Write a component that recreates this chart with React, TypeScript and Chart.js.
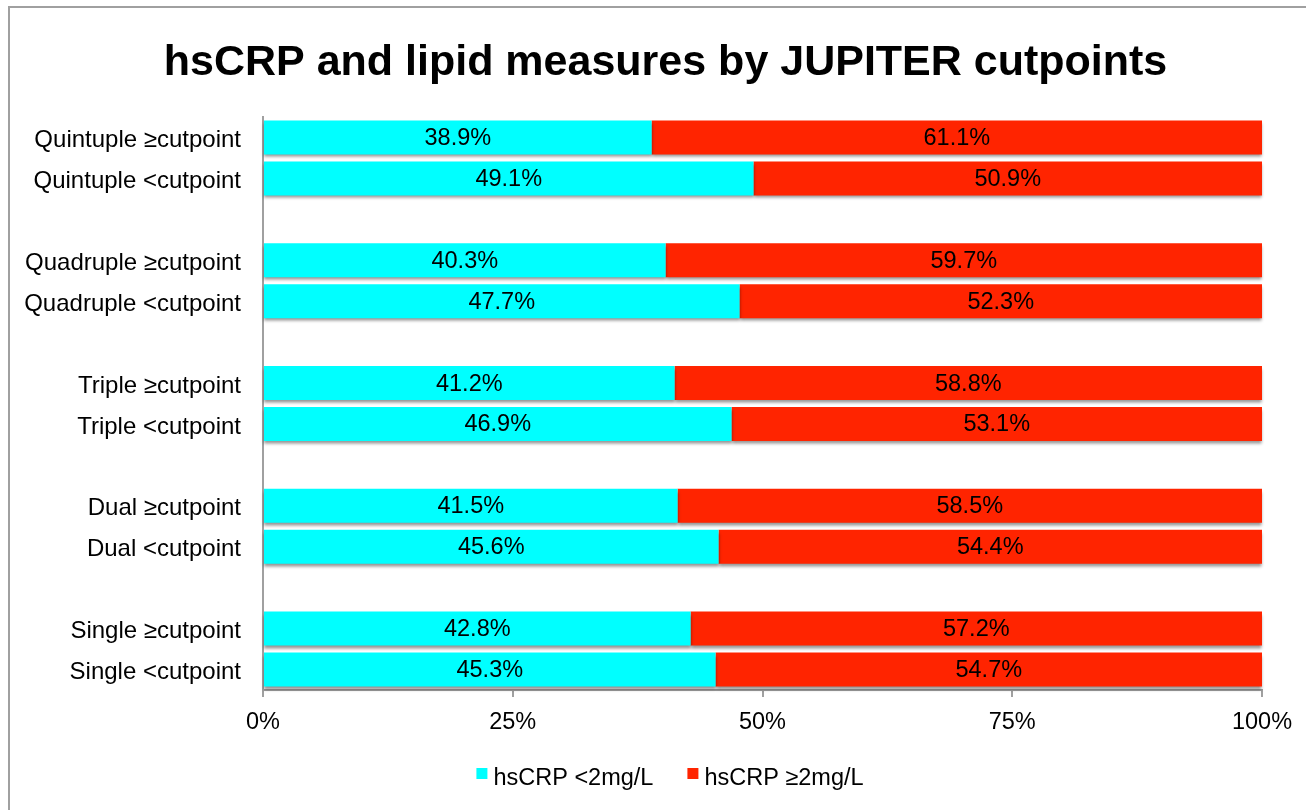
import React, { useEffect, useRef } from "react";
import { Chart, registerables } from "chart.js";

Chart.register(...registerables);

const TITLE = "hsCRP and lipid measures by JUPITER cutpoints";
const categories = [
  "Quintuple ≥cutpoint",
  "Quintuple <cutpoint",
  "",
  "Quadruple ≥cutpoint",
  "Quadruple <cutpoint",
  "",
  "Triple ≥cutpoint",
  "Triple <cutpoint",
  "",
  "Dual ≥cutpoint",
  "Dual <cutpoint",
  "",
  "Single ≥cutpoint",
  "Single <cutpoint",
];
const lowCRP = [38.9, 49.1, null, 40.3, 47.7, null, 41.2, 46.9, null, 41.5, 45.6, null, 42.8, 45.3];
const highCRP = [61.1, 50.9, null, 59.7, 52.3, null, 58.8, 53.1, null, 58.5, 54.4, null, 57.2, 54.7];
const seriesNames = ["hsCRP <2mg/L", "hsCRP ≥2mg/L"];
const seriesColors = ["#00FFFF", "#FF2400"];
const xTicks = [0, 25, 50, 75, 100];

const FONT = "'Liberation Sans', Arial, sans-serif";
const FS = 23.5;
const GRAY = "#a0a0a0";

const framePlugin = {
  id: "frame",
  beforeDraw(chart: any) {
    const ctx = chart.ctx;
    ctx.save();
    ctx.fillStyle = "#ffffff";
    ctx.fillRect(0, 0, chart.width, chart.height);
    ctx.fillStyle = GRAY;
    ctx.fillRect(8, 6, chart.width - 8, 2);
    ctx.fillRect(8, 6, 2, chart.height - 6);
    ctx.restore();
  },
};

const shadowPlugin = {
  id: "barShadow",
  beforeDatasetsDraw(chart: any) {
    const ctx = chart.ctx;
    ctx.save();
    ctx.shadowColor = "rgba(0,0,0,0.42)";
    ctx.shadowBlur = 3;
    ctx.shadowOffsetX = 0;
    ctx.shadowOffsetY = 3;
  },
  afterDatasetsDraw(chart: any) {
    chart.ctx.restore();
  },
};

const labelPlugin = {
  id: "segLabels",
  afterDatasetsDraw(chart: any) {
    const ctx = chart.ctx;
    ctx.save();
    ctx.shadowColor = "transparent";
    ctx.font = `${FS}px ${FONT}`;
    ctx.fillStyle = "#000";
    ctx.textAlign = "center";
    ctx.textBaseline = "middle";
    chart.data.datasets.forEach((ds: any, di: number) => {
      const meta = chart.getDatasetMeta(di);
      meta.data.forEach((el: any, i: number) => {
        const v = ds.data[i];
        if (v == null) return;
        const cx = (el.x + el.base) / 2;
        ctx.fillText(v.toFixed(1) + "%", cx, el.y + 1);
      });
    });
    ctx.restore();
  },
};

const titleLegendPlugin = {
  id: "titleLegend",
  afterDraw(chart: any) {
    const ctx = chart.ctx;
    ctx.save();
    ctx.fillStyle = "#000";
    ctx.font = `bold 43px ${FONT}`;
    ctx.textAlign = "center";
    ctx.textBaseline = "alphabetic";
    ctx.fillText(TITLE, 665.5, 75);

    ctx.font = `${FS}px ${FONT}`;
    ctx.textAlign = "left";
    const box = 11;
    const gapBox = 6;
    const gapItem = 34;
    const widths = seriesNames.map((n) => ctx.measureText(n).width);
    const total = widths.reduce((a, w) => a + box + gapBox + w, 0) + gapItem * (seriesNames.length - 1);
    let x = 670 - total / 2;
    const baseline = 785;
    seriesNames.forEach((n, i) => {
      ctx.fillStyle = seriesColors[i];
      ctx.fillRect(x, 768, box, box);
      x += box + gapBox;
      ctx.fillStyle = "#000";
      ctx.fillText(n, x, baseline);
      x += widths[i] + gapItem;
    });
    ctx.restore();
  },
};

export default function App() {
  const ref = useRef<HTMLCanvasElement>(null);

  useEffect(() => {
    if (!ref.current) return;
    const chart = new Chart(ref.current, {
      type: "bar",
      data: {
        labels: categories,
        datasets: [
          {
            label: seriesNames[0],
            data: lowCRP,
            backgroundColor: seriesColors[0],
            borderWidth: 0,
            clip: false,
          } as any,
          {
            label: seriesNames[1],
            data: highCRP,
            backgroundColor: seriesColors[1],
            borderWidth: 0,
            clip: false,
          } as any,
        ],
      },
      options: {
        indexAxis: "y",
        responsive: false,
        animation: false,
        maintainAspectRatio: false,
        layout: { padding: { left: 0, right: 44, top: 117, bottom: 0 } },
        plugins: {
          legend: { display: false },
          title: { display: false },
          tooltip: { enabled: false },
        },
        datasets: {
          bar: { barPercentage: 0.83, categoryPercentage: 1 },
        },
        scales: {
          x: {
            stacked: true,
            min: 0,
            max: 100,
            afterFit(scale: any) {
              scale.height = 120;
            },
            afterBuildTicks(scale: any) {
              scale.ticks = xTicks.map((v) => ({ value: v }));
            },
            ticks: {
              callback: (v: any) => v + "%",
              color: "#000",
              font: { family: FONT, size: FS },
              padding: 11,
              maxRotation: 0,
            },
            grid: {
              drawOnChartArea: false,
              drawTicks: true,
              tickLength: 7,
              color: GRAY,
              lineWidth: 2,
            },
            border: { display: true, color: GRAY, width: 2 },
          },
          y: {
            stacked: true,
            afterFit(scale: any) {
              scale.width = 263;
            },
            ticks: {
              autoSkip: false,
              color: "#000",
              font: { family: FONT, size: 24 },
              padding: 22,
              labelOffset: 3,
            },
            grid: { display: false, drawTicks: false },
            border: { display: true, color: GRAY, width: 2 },
          },
        },
      },
      plugins: [framePlugin, shadowPlugin, labelPlugin, titleLegendPlugin],
    });
    return () => chart.destroy();
  }, []);

  return (
    <div style={{ position: "fixed", left: 0, top: 0, width: 1306, height: 810, background: "#fff" }}>
      <canvas ref={ref} width={1306} height={810} style={{ display: "block" }} />
    </div>
  );
}
